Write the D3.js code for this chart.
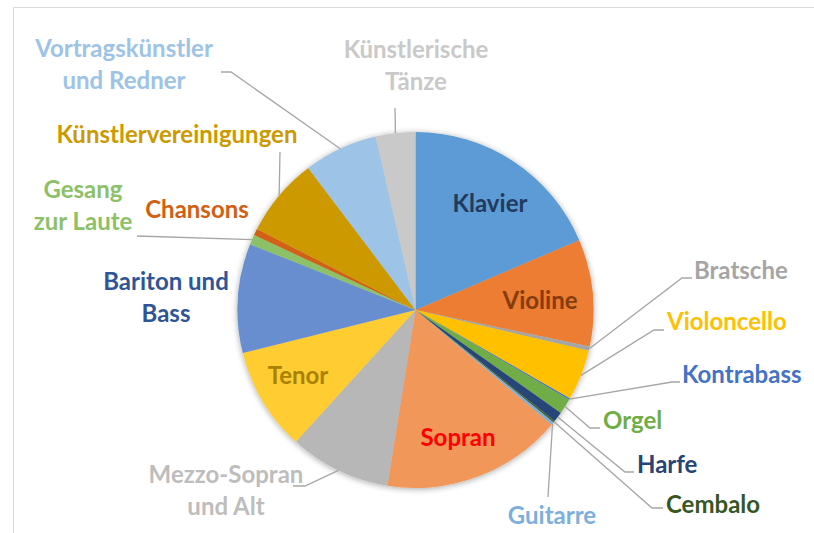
<!DOCTYPE html>
<html><head><meta charset="utf-8">
<script src="https://cdn.jsdelivr.net/npm/d3@7"></script>
<style>
html,body{margin:0;padding:0;background:#fff;}
svg text{font-family:Lato,"Open Sans",sans-serif;font-weight:bold;}
</style></head>
<body>
<svg id="chart" width="814" height="533"></svg>
<script>
// ---- data ----
const categories = ["Klavier","Violine","Bratsche","Violoncello","Kontrabass","Orgel","Harfe","Cembalo","Guitarre","Sopran","Mezzo-Sopran und Alt","Tenor","Bariton und Bass","Gesang zur Laute","Chansons","Künstlervereinigungen","Vortragskünstler und Redner","Künstlerische Tänze"];
const values = [18.6, 9.7, 0.4, 4.6, 0.14, 1.4, 0.9, 0.17, 0.25, 16.4, 9.2, 9.4, 9.9, 0.9, 0.6, 7.2, 6.7, 3.6];
const labelLines = [["Klavier"],["Violine"],["Bratsche"],["Violoncello"],["Kontrabass"],["Orgel"],["Harfe"],["Cembalo"],["Guitarre"],["Sopran"],["Mezzo-Sopran","und Alt"],["Tenor"],["Bariton und","Bass"],["Gesang","zur Laute"],["Chansons"],["Künstlervereinigungen"],["Vortragskünstler","und Redner"],["Künstlerische","Tänze"]];
const sliceColors = ["#5B9BD5","#ED7D31","#A5A5A5","#FFC000","#4472C4","#70AD47","#264478","#43682B","#7CAFDD","#F1975A","#B7B7B7","#FFCD33","#698ED0","#8CC168","#D26012","#CC9A00","#9DC3E6","#C9C9C9"];
const labelColors = ["#223A5E","#843C0C","#A5A5A5","#FFC000","#4472C4","#70AD47","#264478","#375623","#7CAFDD","#FF0000","#BDBDBD","#A88100","#2F5597","#8CC168","#D26012","#CC9A00","#9DC3E6","#C9C9C9"];

// ---- layout ----
const W = 814, H = 533;
const cx = 415.5, cy = 310, R = 178;
// label anchor: [x, firstBaseline, anchor]
const labelPos = [
  [490,212,"middle"],[540,309,"middle"],[694,279,"start"],[667,330,"start"],[682,383,"start"],
  [603,429,"start"],[637,473,"start"],[666,513,"start"],[552,524,"middle"],[458,446,"middle"],
  [226,483,"middle"],[298,384,"middle"],[166,290,"middle"],[83,198,"middle"],[197,218,"middle"],
  [177,143,"middle"],[124,57,"middle"],[416,58,"middle"]
];
// elbow points of leader lines (null = no leader)
const leader = [
  null,null,[[682,278],[692,278]],[[654,330],[664,330]],[[672,382],[680,382]],
  [[590,428],[600,428]],[[625,472],[634,472]],[[652,508],[663,508]],[[548,497]],null,
  [[305,486],[293,486]],null,null,[[137,236]],null,
  [[280,152]],[[231,72],[221,72]],[[395,108]]
];

const svg = d3.select("#chart");

// frame
svg.append("path").attr("d", `M13.5,${H+2} L13.5,7.5 L${W+2},7.5`)
  .attr("fill","none").attr("stroke","#D9D9D9").attr("stroke-width",1);

const defs = svg.append("defs");
const f = defs.append("filter").attr("id","sh").attr("x","-20%").attr("y","-20%").attr("width","140%").attr("height","140%");
f.append("feGaussianBlur").attr("in","SourceAlpha").attr("stdDeviation",3).attr("result","b");
f.append("feOffset").attr("in","b").attr("dx",0).attr("dy",1).attr("result","o");
f.append("feComponentTransfer").attr("in","o").attr("result","o2")
  .append("feFuncA").attr("type","linear").attr("slope",0.35);
const m = f.append("feMerge"); m.append("feMergeNode").attr("in","o2"); m.append("feMergeNode").attr("in","SourceGraphic");

const pie = d3.pie().sort(null).value(d => d)(values);
const arc = d3.arc().innerRadius(0).outerRadius(R);

const g = svg.append("g").attr("transform",`translate(${cx},${cy})`);
g.append("g").attr("filter","url(#sh)")
  .selectAll("path").data(pie).join("path")
  .attr("d", arc).attr("fill", (d,i) => sliceColors[i]);

// leader lines
const line = d3.line();
pie.forEach((d,i) => {
  if (!leader[i]) return;
  const a = (d.startAngle + d.endAngle)/2;
  const start = [cx + R*Math.sin(a), cy - R*Math.cos(a)];
  svg.append("path").attr("d", line([start, ...leader[i]]))
    .attr("fill","none").attr("stroke","#A6A6A6").attr("stroke-width",1.3);
});

// labels
const fs = 24, lh = 31.5;
categories.forEach((c,i) => {
  const [x,y,anc] = labelPos[i];
  const t = svg.append("text").attr("x",x).attr("y",y).attr("text-anchor",anc)
    .attr("fill",labelColors[i]).attr("font-size",fs);
  labelLines[i].forEach((s,k) => {
    t.append("tspan").attr("x",x).attr("dy", k===0?0:lh).text(s);
  });
});
</script>
</body></html>
